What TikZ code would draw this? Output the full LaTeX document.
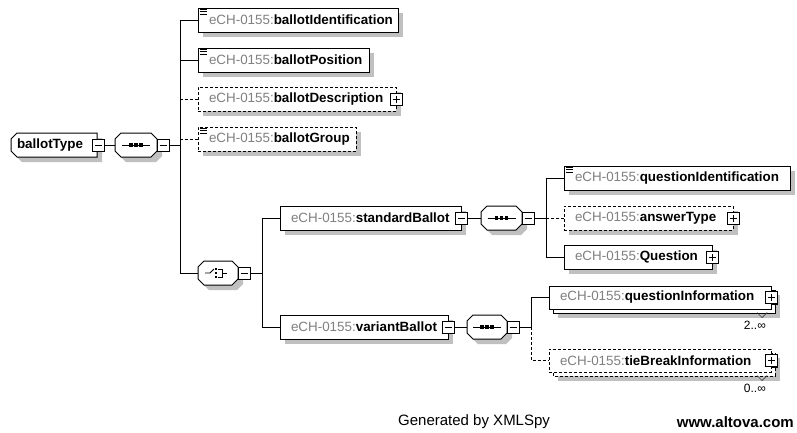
\documentclass[tikz,border=0pt]{standalone}
\usepackage{fontspec}
\setmainfont{Liberation Sans}
\usetikzlibrary{calc}
\pgfdeclarelayer{bg}
\pgfdeclarelayer{shadowlayer}
\pgfdeclarelayer{shapelayer}
\pgfsetlayers{bg,shadowlayer,shapelayer,main}
\definecolor{pfx}{RGB}{128,128,128}
\definecolor{shd}{RGB}{192,192,192}
\newcommand\ech[1]{\mbox{{\color{pfx}eCH-0155:}\textbf{#1}}}
\newcommand\elfont{\fontsize{13.4}{15}\selectfont}
% sequence symbol
\newcommand\seqsym[1]{%
  \draw[line width=1pt] ([xshift=-14pt]#1.center) -- ([xshift=14pt]#1.center);
  \foreach \d in {-5,0,5} \fill ([shift={(\d-1.6,-1.6)}]#1.center) rectangle ++(3.2,3.2);}
% choice symbol
\newcommand\chsym[1]{%
  \draw[line width=0.9pt] ([xshift=-13pt]#1.center) -- ([xshift=-8pt]#1.center) -- ([shift={(-4,-4)}]#1.center);
  \foreach \d in {-4,0,4} \fill ([shift={(-3,\d-1.2)}]#1.center) rectangle ++(2.4,2.4);
  \draw[line width=0.9pt] ([shift={(0,-4)}]#1.center) -- ([shift={(4,-4)}]#1.center) -- ([shift={(4,4)}]#1.center) -- ([shift={(0,4)}]#1.center);
  \draw[line width=0.9pt] ([shift={(4,0)}]#1.center) -- ([shift={(9,0)}]#1.center);}
% simple-content icon
\newcommand\simp[1]{\foreach \k in {1.2,3.6,6} \draw[line width=0.8pt] ([shift={(2,\k)}]#1.north west) -- ++(7,0);}
% octagon outline (#2 = right chamfer) with its shadow
\newcommand\octo[2]{%
  \begin{pgfonlayer}{shapelayer}
  \fill[shd] let \p1=(#1.north west), \p2=(#1.south east) in
    (\x1+11pt,\y1-5pt) -- (\x2+5pt-#2,\y1-5pt) -- (\x2+5pt,\y1-5pt-#2) -- (\x2+5pt,\y2-5pt+#2) -- (\x2+5pt-#2,\y2-5pt) -- (\x1+11pt,\y2-5pt) -- (\x1+5pt,\y2+1pt) -- (\x1+5pt,\y1-11pt) -- cycle;
  \draw[fill=white, line width=1pt] let \p1=(#1.north west), \p2=(#1.south east) in
    (\x1+6pt,\y1) -- (\x2-#2,\y1) -- (\x2,\y1-#2) -- (\x2,\y2+#2) -- (\x2-#2,\y2) -- (\x1+6pt,\y2) -- (\x1,\y2+6pt) -- (\x1,\y1-6pt) -- cycle;
  \end{pgfonlayer}}
% rectangular drop shadow
\newcommand\rshadow[2]{%
  \begin{pgfonlayer}{shadowlayer}
  \fill[#2] ([shift={(5,5)}]#1.north west) rectangle ([shift={(5,5)}]#1.south east);
  \end{pgfonlayer}}
% stacked copy behind a repeated element
\newcommand\stack[2]{%
  \begin{pgfonlayer}{shadowlayer}
  \fill[shd] ([shift={(9,9)}]#1.north west) rectangle ([shift={(9,9)}]#1.south east);
  \draw[fill=white, line width=1pt, #2] ([shift={(4,4)}]#1.north west) rectangle ([shift={(4,4)}]#1.south east);
  \end{pgfonlayer}}
% black offset of +/- boxes
\newcommand\pmshadow[1]{%
  \begin{pgfonlayer}{shapelayer}
  \fill[black] ([shift={(1.3,1.3)}]#1.north west) rectangle ([shift={(1.3,1.3)}]#1.south east);
  \end{pgfonlayer}}
\begin{document}
\begin{tikzpicture}[x=1pt,y=-1pt,line width=1pt,
  base/.style={rectangle, draw=black, fill=white, minimum height=24pt, inner xsep=11pt, inner ysep=0pt, outer sep=0pt, align=left, anchor=west, font=\elfont},
  optline/.style={dash pattern=on 3pt off 2pt},
  elem/.style={base},
  optelem/.style={base, optline},
  multi/.style={base, minimum height=23pt},
  ctype/.style={rectangle, draw=none, minimum width=86pt, minimum height=24pt, inner xsep=6pt, inner ysep=0pt, outer sep=0pt, anchor=west, align=left, font=\elfont\bfseries},
  comp/.style={rectangle, draw=none, minimum width=#1, minimum height=24pt, inner sep=0pt, outer sep=0pt, anchor=west},
  pm/.style={rectangle, draw=black, fill=white, minimum size=12pt, inner sep=0pt, outer sep=0pt, line width=0.8pt, solid},
  minus/.style={pm, path picture={\draw[line width=0.8pt] ([xshift=2.5pt]path picture bounding box.west) -- ([xshift=-2.5pt]path picture bounding box.east);}},
  plus/.style={pm, path picture={\draw[line width=0.8pt] ([xshift=2.5pt]path picture bounding box.west) -- ([xshift=-2.5pt]path picture bounding box.east); \draw[line width=0.8pt] ([yshift=2.5pt]path picture bounding box.south) -- ([yshift=-2.5pt]path picture bounding box.north);}},
  mult/.style={font=\fontsize{12}{14}\selectfont, inner sep=0pt, anchor=east},
  foot/.style={font=\fontsize{15}{17}\selectfont, inner sep=0pt}
]
\useasboundingbox (0,0) rectangle (797,432);
\begin{pgfonlayer}{bg}
\fill[white] (0,0) rectangle (797,432);
\end{pgfonlayer}

% root
\node[ctype, text width=74pt] (btype) at (11,145) {ballotType};
\octo{btype}{0pt}
\node[minus] (btm) at ([xshift=1pt]btype.east) {};
\pmshadow{btm}
\node[comp=42pt] (seq1) at (115,145) {};
\octo{seq1}{6pt}
\seqsym{seq1}
\node[minus, anchor=west] (seq1m) at (seq1.east) {};
\pmshadow{seq1m}
\coordinate (j1) at (180,145);

% first level children
\node[elem, text width=178pt] (bid) at (198,20) {\ech{ballotIdentification}};
\rshadow{bid}{shd}
\simp{bid}
\node[elem, text width=149pt] (bpos) at (198,60) {\ech{ballotPosition}};
\rshadow{bpos}{shd}
\simp{bpos}
\node[optelem, text width=176pt] (bdesc) at (198,99) {\ech{ballotDescription}};
\rshadow{bdesc}{shd}
\node[plus] (bdescp) at (bdesc.east) {};
\pmshadow{bdescp}
\node[optelem, text width=136pt] (bgrp) at (198,139) {\ech{ballotGroup}};
\rshadow{bgrp}{shd}
\simp{bgrp}
\node[comp=40pt] (choice) at (198,273) {};
\octo{choice}{6pt}
\chsym{choice}
\node[minus, anchor=west] (choicem) at (choice.east) {};
\pmshadow{choicem}
\coordinate (j2) at (262,273);

% choice children
\node[elem, text width=159pt] (sb) at (280,218) {\ech{standardBallot}};
\rshadow{sb}{shd}
\node[minus] (sbm) at (sb.east) {};
\pmshadow{sbm}
\node[comp=41pt] (seq2) at (481,218) {};
\octo{seq2}{6pt}
\seqsym{seq2}
\node[minus, anchor=west] (seq2m) at (seq2.east) {};
\pmshadow{seq2m}
\coordinate (j3) at (546,218);

\node[elem, text width=146pt] (vb) at (280,327) {\ech{variantBallot}};
\rshadow{vb}{shd}
\node[minus] (vbm) at (vb.east) {};
\pmshadow{vbm}
\node[comp=40pt] (seq3) at (467,327) {};
\octo{seq3}{6pt}
\seqsym{seq3}
\node[minus, anchor=west] (seq3m) at (seq3.east) {};
\pmshadow{seq3m}
\coordinate (j4) at (531,327);

% standardBallot children
\node[elem, text width=204pt] (qid) at (564,178) {\ech{questionIdentification}};
\rshadow{qid}{shd}
\simp{qid}
\node[optelem, text width=147pt] (at) at (564,218) {\ech{answerType}};
\rshadow{at}{shd}
\node[plus] (atp) at (at.east) {};
\pmshadow{atp}
\node[elem, text width=126pt] (q) at (564,257) {\ech{Question}};
\rshadow{q}{shd}
\node[plus] (qp) at (q.east) {};
\pmshadow{qp}

% variantBallot children
\node[multi, text width=200pt] (qinfo) at (549,297.5) {\ech{questionInformation}};
\stack{qinfo}{solid}
\node[plus] (qinfop) at (qinfo.east) {};
\pmshadow{qinfop}
\draw[line width=0.7pt, black!75] ([shift={(-14,3.5)}]qinfo.south east) -- ++(5,5) -- ++(5,-5);
\node[mult] (m1) at ([shift={(-5,16)}]qinfo.south east) {2..∞};
\node[multi, optline, text width=200pt] (tie) at (549,360.5) {\ech{tieBreakInformation}};
\stack{tie}{optline}
\node[plus] (tiep) at (tie.east) {};
\pmshadow{tiep}
\draw[line width=0.7pt, black!75] ([shift={(-14,3.5)}]tie.south east) -- ++(5,5) -- ++(5,-5);
\node[mult] (m2) at ([shift={(-5,16)}]tie.south east) {0..∞};

% connectors
\draw (btm.east) -- (seq1.west);
\draw (seq1m.east) -- (j1);
\draw (j1) |- (bid.west);
\draw (j1) |- (bpos.west);
\draw (j1) |- (choice.west);
\draw[optline] (j1 |- bdesc.west) -- (bdesc.west);
\draw[optline] (j1 |- bgrp.west) -- (bgrp.west);
\draw (choicem.east) -- (j2);
\draw (j2) |- (sb.west);
\draw (j2) |- (vb.west);
\draw (sbm.east) -- (seq2.west);
\draw (seq2m.east) -- (j3);
\draw (j3) |- (qid.west);
\draw (j3) |- (q.west);
\draw[optline] (j3) -- (at.west);
\draw (vbm.east) -- (seq3.west);
\draw (seq3m.east) -- (j4);
\draw (j4) |- (qinfo.west);
\draw[optline] (j4) |- (tie.west);

% footer
\node[foot, anchor=west] (gen) at (398,422) {Generated by XMLSpy};
\node[foot, anchor=east, font=\fontsize{15}{17}\selectfont\bfseries] (alt) at (794,422) {www.altova.com};
\end{tikzpicture}
\end{document}
